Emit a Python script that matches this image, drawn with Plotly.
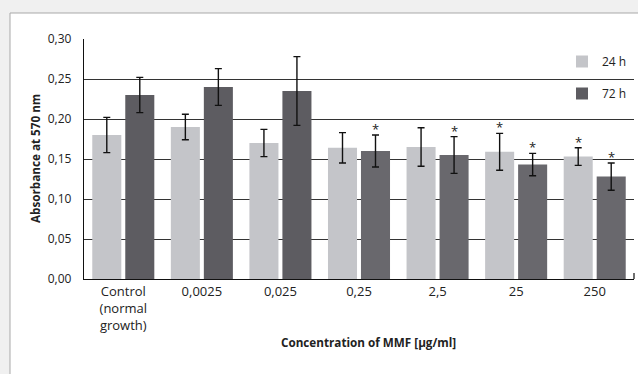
import plotly.graph_objects as go

categories = ["Control<br>(normal<br>growth)", "0,0025", "0,025", "0,25", "2,5", "25", "250"]
vals_24h = [0.180, 0.190, 0.170, 0.164, 0.165, 0.159, 0.153]
err_24h = [0.022, 0.016, 0.017, 0.019, 0.024, 0.023, 0.011]
vals_72h = [0.230, 0.240, 0.235, 0.160, 0.155, 0.143, 0.128]
err_72h = [0.022, 0.023, 0.043, 0.020, 0.023, 0.014, 0.017]
sig_24h = [False, False, False, False, False, True, True]
sig_72h = [False, False, False, True, True, True, True]
y_ticks = [0.0, 0.05, 0.10, 0.15, 0.20, 0.25, 0.30]

LIGHT = "#c4c5c9"
DARK_COLORS = ["#5d5c61", "#5d5c61", "#5d5c61", "#69686d", "#69686d", "#69686d", "#69686d"]
FONT = "Open Sans"

fig = go.Figure()
fig.add_trace(go.Bar(
    name="24 h", x=categories, y=vals_24h, marker=dict(color=LIGHT, line=dict(width=0)),
    error_y=dict(type="data", array=err_24h, color="#111111", thickness=1.4, width=3.5),
    legendgroup="a",
))
fig.add_trace(go.Bar(
    name="72 h", x=categories, y=vals_72h, marker=dict(color=DARK_COLORS, line=dict(width=0)),
    error_y=dict(type="data", array=err_72h, color="#111111", thickness=1.4, width=3.5),
    legendgroup="b",
))

# significance asterisks (x given as category index)
for i, c in enumerate(categories):
    if sig_24h[i]:
        fig.add_annotation(x=i, y=vals_24h[i] + err_24h[i], text="*", showarrow=False,
                           xshift=-16.5, yshift=-5, yanchor="bottom",
                           font=dict(family=FONT, size=13, color="#222"))
    if sig_72h[i]:
        fig.add_annotation(x=i, y=vals_72h[i] + err_72h[i], text="*", showarrow=False,
                           xshift=16.5, yshift=-5, yanchor="bottom",
                           font=dict(family=FONT, size=13, color="#222"))

L, R, T, B = 84, 4, 39, 95
W, H = 638, 374
pw, ph = W - L - R, H - T - B

def px_x(x):
    return (x - L) / pw

def px_y(y):
    return (H - B - y) / ph

shapes = [
    # white panel with border
    dict(type="rect", xref="paper", yref="paper", layer="below",
         x0=px_x(10), x1=px_x(700), y0=px_y(420), y1=px_y(13),
         fillcolor="white", line=dict(color="#a9a9a9", width=1)),
    # right end tick on x axis
    dict(type="line", xref="paper", yref="paper",
         x0=1, x1=1, y0=0, y1=6 / ph, line=dict(color="#111", width=1.2)),
]

fig.update_layout(
    width=W, height=H,
    margin=dict(l=L, r=R, t=T, b=B, pad=0),
    paper_bgcolor="#f0f0f0",
    plot_bgcolor="rgba(0,0,0,0)",
    separators=", ",
    barmode="group", bargap=0.16, bargroupgap=0.12,
    font=dict(family=FONT, size=12, color="#222"),
    shapes=shapes,
    showlegend=True,
    legend=dict(x=px_x(562), y=px_y(47), xanchor="left", yanchor="top",
                bgcolor="rgba(0,0,0,0)", tracegroupgap=13,
                font=dict(family=FONT, size=12, color="#222")),
    xaxis=dict(type="category", range=[-0.5, 6.5], showline=True, linecolor="#111", linewidth=1.4,
               ticks="", tickfont=dict(family=FONT, size=13, color="#222"), showgrid=False),
    yaxis=dict(range=[0, 0.30], tickvals=y_ticks, tickformat=".2f",
               showline=True, linecolor="#111", linewidth=1.4,
               showgrid=True, gridcolor="#333", gridwidth=1.3, zeroline=False,
               ticks="", ticklabelstandoff=9,
               tickfont=dict(family=FONT, size=12, color="#222")),
)
fig.add_annotation(xref="paper", yref="paper", x=px_x(25), y=0.5, text="<b>Absorbance at 570 nm</b>",
                   textangle=-90, showarrow=False, font=dict(family=FONT, size=11.7, color="#222"))
fig.add_annotation(xref="paper", yref="paper", x=px_x(368), y=px_y(352), text="<b>Concentration of MMF [µg/ml]</b>",
                   showarrow=False, font=dict(family=FONT, size=11.7, color="#222"))

fig.write_html("out.html", config={"displayModeBar": False},
               post_script="document.body.style.margin='0';")
